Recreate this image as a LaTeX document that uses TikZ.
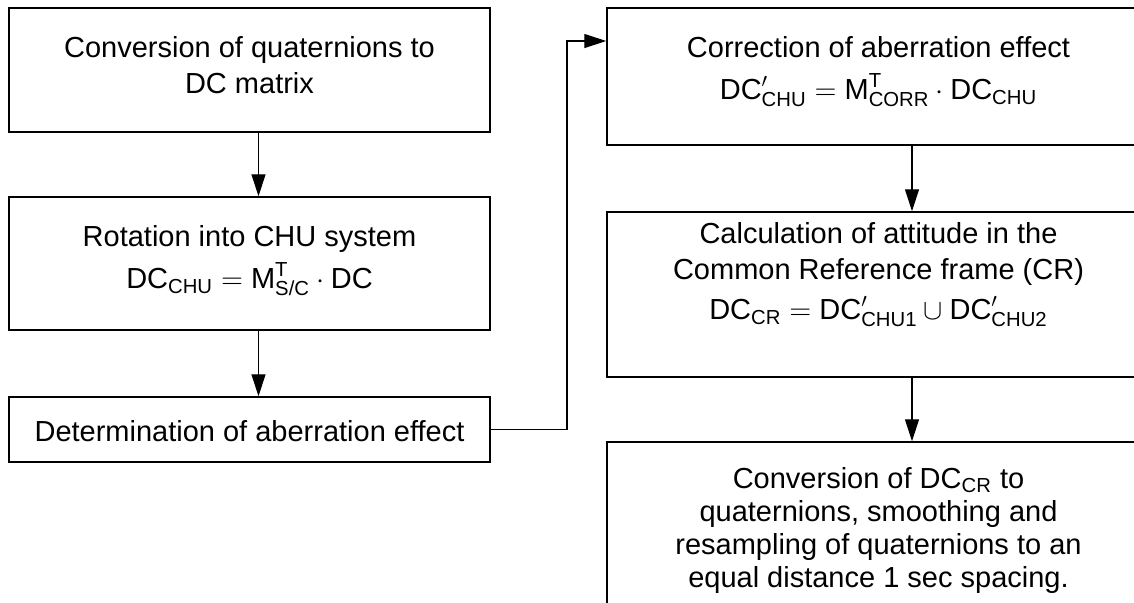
\documentclass[tikz,border=0pt]{standalone}
\usepackage{amsmath}
\usepackage{fontspec}
\setmainfont{Liberation Sans}
\usepackage{tikz}
\usetikzlibrary{arrows.meta}

\begin{document}
\begin{tikzpicture}[x=0.5pt, y=-0.5pt,
        box/.style={draw, line width=0.75pt, inner sep=0pt},
        txt/.style={align=center, inner sep=0pt, font=\fontsize{14.5}{18}\selectfont},
        flow/.style={-{Triangle[length=11pt,width=7pt]}, line width=0.6pt}]
        \useasboundingbox (0,0) rectangle (1134,602);
        \clip (0,0) rectangle (1134,602);

        % left column
        \node (conv)    at (249.5,70)   [box, minimum width=240.5pt, minimum height=62pt] {};
        \node (rot)     at (249.5,263.5) [box, minimum width=240.5pt, minimum height=66.5pt] {};
        \node (det)     at (249.5,429.5) [box, minimum width=240.5pt, minimum height=32.5pt] {};

        \node (convtxt) at (249.5,65)   [txt] {Conversion of quaternions to\\DC matrix};
        \node (rottxt)  at (249.5,261)  [txt] {Rotation into CHU system\\[3pt]
            $\text{DC}_{\text{CHU}} = \text{M}^{\text{T}}_{\text{S/C}}\cdot\text{DC}$};
        \node (dettxt)  at (249.5,431)  [txt] {Determination of aberration effect};

        % right column
        \node (corr)    at (878.5,76.5)  [box, minimum width=271.5pt, minimum height=68.5pt] {};
        \node (calc)    at (878.5,294.5) [box, minimum width=271.5pt, minimum height=82.5pt] {};
        \node (final)   at (878.5,531)   [box, minimum width=271.5pt, minimum height=89pt] {};

        \node (corrtxt) at (878.5,72)   [txt] {Correction of aberration effect\\[3pt]
            $\text{DC}'_{\text{CHU}} = \text{M}^{\text{T}}_{\text{CORR}}\cdot\text{DC}_{\text{CHU}}$};
        \node (calctxt) at (878.5,275)  [txt] {Calculation of attitude in the\\Common Reference frame (CR)\\[2pt]
            $\text{DC}_{\text{CR}} = \text{DC}'_{\text{CHU1}}\cup\text{DC}'_{\text{CHU2}}$};
        \node (finaltxt) at (878.5,530) [txt, font=\fontsize{14.5}{16.5}\selectfont]
            {Conversion of DC\textsubscript{CR} to\\quaternions, smoothing and\\resampling of quaternions to an\\equal distance 1 sec spacing.};

        \coordinate (bend) at (567,41);

        \draw[flow] ([xshift=4.5pt]conv.south) -- ([xshift=4.5pt]rot.north);
        \draw[flow] ([xshift=4.5pt]rot.south)  -- ([xshift=4.5pt]det.north);
        \draw[flow] (det.east) -| (bend) -- (bend -| corr.west);
        \draw[flow] ([xshift=16.75pt]corr.south) -- ([xshift=16.75pt]calc.north);
        \draw[flow] ([xshift=16.75pt]calc.south) -- ([xshift=16.75pt]final.north);
    \end{tikzpicture}
\end{document}
